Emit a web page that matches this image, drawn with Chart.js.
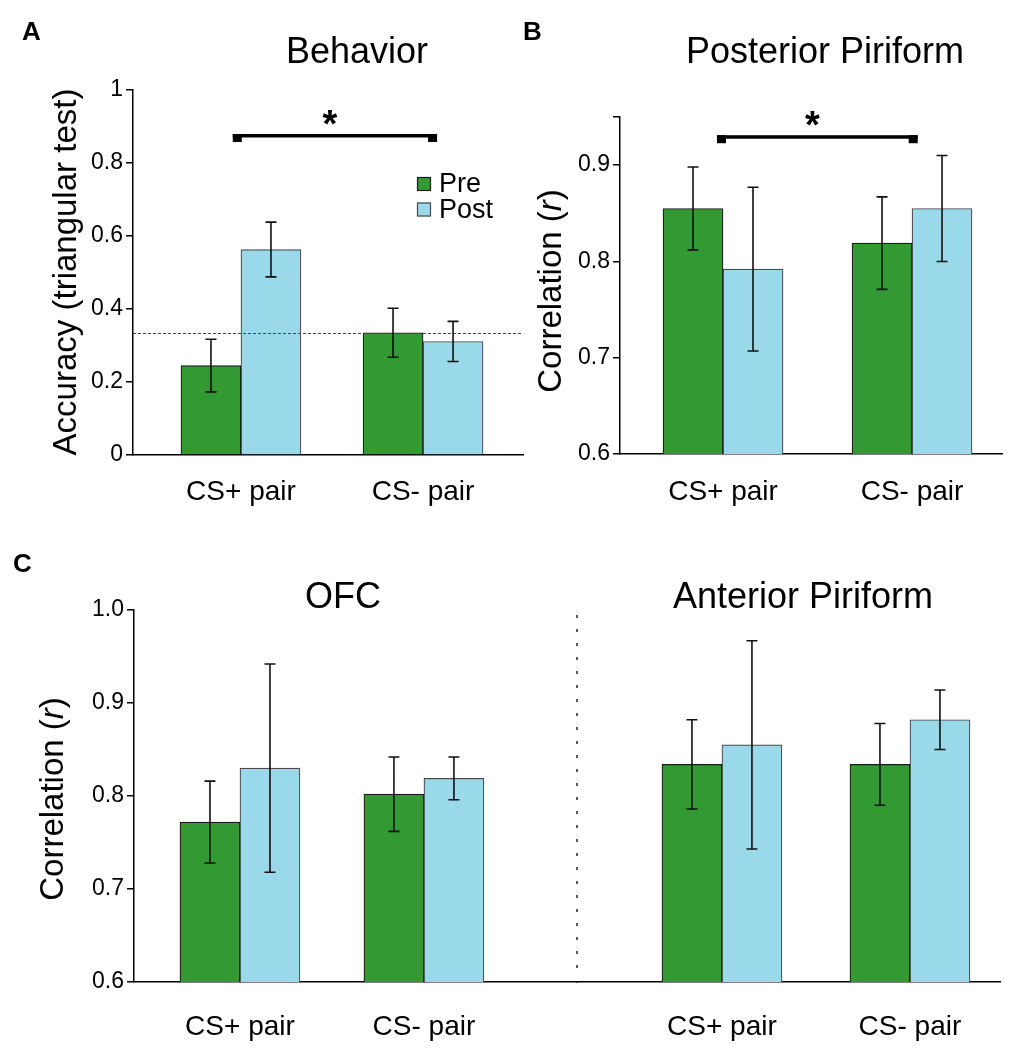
<!DOCTYPE html>
<html>
<head>
<meta charset="utf-8">
<script src="https://cdn.jsdelivr.net/npm/chart.js@4.4.1/dist/chart.umd.min.js"></script>
<style>
  html, body { margin: 0; padding: 0; background: #fff; }
  #wrap { position: relative; width: 1014px; height: 1050px; overflow: hidden; }
  canvas { position: absolute; }
</style>
</head>
<body>
<div id="wrap">
  <canvas id="chartA" style="left:0px;top:0px" width="530" height="510"></canvas>
  <canvas id="chartB" style="left:505px;top:0px" width="509" height="510"></canvas>
  <canvas id="chartOFC" style="left:0px;top:540px" width="580" height="510"></canvas>
  <canvas id="chartAP" style="left:567px;top:540px" width="447" height="510"></canvas>
</div>
<script>
const groups = ['CS+ pair', 'CS- pair'];
const seriesNames = ['Pre', 'Post'];

// Behavior (accuracy, triangular test)
const behaviorPre = [0.245, 0.335];
const behaviorPost = [0.563, 0.311];
const behaviorPreErr = [0.072, 0.067];
const behaviorPostErr = [0.075, 0.055];

// Posterior piriform (correlation r)
const postPirPre = [0.855, 0.819];
const postPirPost = [0.792, 0.855];
const postPirPreErr = [0.043, 0.048];
const postPirPostErr = [0.085, 0.055];

// OFC
const ofcPre = [0.772, 0.802];
const ofcPost = [0.830, 0.819];
const ofcPreErr = [0.044, 0.040];
const ofcPostErr = [0.112, 0.023];

// Anterior piriform
const antPirPre = [0.834, 0.834];
const antPirPost = [0.855, 0.882];
const antPirPreErr = [0.048, 0.044];
const antPirPostErr = [0.112, 0.032];

const accuracyTicks = [0, 0.2, 0.4, 0.6, 0.8, 1];
const accuracyTickLabels = ['0', '0.2', '0.4', '0.6', '0.8', '1'];
const postPirTicks = [0.6, 0.7, 0.8, 0.9, 0.95];
const postPirTickLabels = ['0.6', '0.7', '0.8', '0.9', ''];
const corrTicks = [0.6, 0.7, 0.8, 0.9, 1.0];
const corrTickLabels = ['0.6', '0.7', '0.8', '0.9', '1.0'];

const chanceLevel = 1 / 3;
const behaviorSig = 0.874;
const postPirSig = 0.929;

const FONT = "'Liberation Sans', Arial, Helvetica, sans-serif";
const preColor = '#339933';
const postColor = '#99d9ea';

const corrTitle = [{ t: 'Correlation (' }, { t: 'r', italic: true }, { t: ')' }];

// draws error bars, brackets, legend, titles etc.
const decor = {
  id: 'decor',
  afterDatasetsDraw(chart, args, opts) {
    const ctx = chart.ctx;
    const xs = chart.scales.x, ys = chart.scales.y;
    const area = chart.chartArea;
    ctx.save();
    if (opts.chance !== undefined) {
      const y = Math.round(ys.getPixelForValue(opts.chance)) + 0.5;
      ctx.setLineDash([3, 2]);
      ctx.lineWidth = 1;
      ctx.strokeStyle = '#444';
      ctx.beginPath();
      ctx.moveTo(area.left, y);
      ctx.lineTo(area.right, y);
      ctx.stroke();
      ctx.setLineDash([]);
    }
    chart.data.datasets.forEach((ds, d) => {
      chart.getDatasetMeta(d).data.forEach((bar, i) => {
        const v = ds.data[i].y, e = ds.errors[i];
        const x = bar.x;
        const y1 = ys.getPixelForValue(v + e);
        const y2 = ys.getPixelForValue(v - e);
        ctx.strokeStyle = '#111';
        ctx.lineWidth = 1.6;
        ctx.beginPath();
        ctx.moveTo(x, y1); ctx.lineTo(x, y2);
        ctx.moveTo(x - 5.5, y1); ctx.lineTo(x + 5.5, y1);
        ctx.moveTo(x - 5.5, y2); ctx.lineTo(x + 5.5, y2);
        ctx.stroke();
      });
    });
    if (opts.bracket) {
      const b = opts.bracket;
      const x1 = xs.getPixelForValue(b.from);
      const x2 = xs.getPixelForValue(b.to);
      const y = ys.getPixelForValue(b.level);
      ctx.fillStyle = '#000';
      ctx.fillRect(x1, y - 2, x2 - x1, 3.5);
      ctx.fillRect(x1, y - 2, 9, 8);
      ctx.fillRect(x2 - 9, y - 2, 9, 8);
      ctx.font = 'bold 38px ' + FONT;
      ctx.textAlign = 'center';
      ctx.textBaseline = 'alphabetic';
      ctx.fillText('*', (x1 + x2) / 2 - 5, y + 1);
    }
    if (opts.legend) {
      const L = opts.legend;
      chart.data.datasets.forEach((ds, d) => {
        const top = L.y + d * 25.5;
        ctx.fillStyle = ds.backgroundColor;
        ctx.fillRect(L.x, top, 14, 14);
        ctx.strokeStyle = ds.borderColor;
        ctx.lineWidth = 1.2;
        ctx.strokeRect(L.x + 0.5, top + 0.5, 13, 13);
        ctx.fillStyle = '#000';
        ctx.font = '27px ' + FONT;
        ctx.textAlign = 'left';
        ctx.textBaseline = 'alphabetic';
        ctx.fillText(ds.label, L.x + 22, top + 15);
      });
    }
    if (opts.divider) {
      const x = area.left;
      ctx.strokeStyle = '#222';
      ctx.lineWidth = 1.5;
      ctx.setLineDash([3, 11]);
      ctx.beginPath();
      ctx.moveTo(x, area.top + 5);
      ctx.lineTo(x, area.bottom - 4);
      ctx.stroke();
      ctx.setLineDash([]);
    }
    (opts.texts || []).forEach(t => {
      ctx.fillStyle = '#000';
      ctx.font = t.font + ' ' + FONT;
      ctx.textAlign = t.align || 'left';
      ctx.textBaseline = 'alphabetic';
      ctx.fillText(t.text, t.x, t.y);
    });
    if (opts.yTitle) {
      const yt = opts.yTitle;
      ctx.translate(yt.x, yt.y);
      ctx.rotate(-Math.PI / 2);
      ctx.textBaseline = 'middle';
      ctx.textAlign = 'left';
      ctx.fillStyle = '#000';
      let total = 0;
      yt.segments.forEach(s => {
        ctx.font = (s.italic ? 'italic ' : '') + yt.size + 'px ' + FONT;
        total += ctx.measureText(s.t).width;
      });
      let cx = -total / 2;
      yt.segments.forEach(s => {
        ctx.font = (s.italic ? 'italic ' : '') + yt.size + 'px ' + FONT;
        ctx.fillText(s.t, cx, 0);
        cx += ctx.measureText(s.t).width;
      });
    }
    ctx.restore();
  }
};

function makePanel(id, p) {
  const datasets = [
    {
      label: seriesNames[0],
      data: p.pre.map((v, i) => ({ x: i, y: v })),
      errors: p.preErr,
      backgroundColor: preColor,
      borderColor: '#1a1a1a',
      borderWidth: 1.2,
      barThickness: 60
    },
    {
      label: seriesNames[1],
      data: p.post.map((v, i) => ({ x: i, y: v })),
      errors: p.postErr,
      backgroundColor: postColor,
      borderColor: '#4a4a4a',
      borderWidth: 1.2,
      barThickness: 60
    }
  ];
  return new Chart(document.getElementById(id), {
    type: 'bar',
    data: { datasets: datasets },
    options: {
      responsive: false,
      animation: false,
      layout: { padding: p.padding },
      plugins: {
        legend: { display: false },
        tooltip: { enabled: false },
        decor: p.decor
      },
      scales: {
        x: {
          type: 'linear',
          min: p.xMin,
          max: p.xMax,
          offset: false,
          z: 1,
          afterBuildTicks: s => { s.ticks = groups.map((g, i) => ({ value: i })); },
          afterFit: s => { s.height = p.xHeight; },
          ticks: {
            callback: (v, i) => groups[i],
            autoSkip: false,
            maxRotation: 0,
            padding: p.xPad,
            color: '#000',
            font: { family: FONT, size: 28 }
          },
          grid: { display: false, drawTicks: false },
          border: { display: true, color: '#000', width: 1.5 }
        },
        y: {
          display: p.showY,
          min: p.yMin,
          max: p.yMax,
          beginAtZero: false,
          afterBuildTicks: s => { s.ticks = p.yTicks.map(v => ({ value: v })); },
          afterFit: s => { s.width = p.yWidth; },
          ticks: {
            callback: (v, i) => p.yTickLabels[i],
            autoSkip: false,
            padding: 3,
            color: '#000',
            font: { family: FONT, size: 23 }
          },
          grid: { display: true, drawOnChartArea: false, drawTicks: true, tickLength: 7, color: '#000', lineWidth: 1.5 },
          border: { display: true, color: '#000', width: 1.5 }
        }
      }
    },
    plugins: [decor]
  });
}

// Panel A
makePanel('chartA', {
  pre: behaviorPre, post: behaviorPost, preErr: behaviorPreErr, postErr: behaviorPostErr,
  yMin: 0, yMax: 1, yTicks: accuracyTicks, yTickLabels: accuracyTickLabels,
  xMin: -0.593, xMax: 1.549,
  padding: { left: 0, top: 90, right: 7, bottom: 0 },
  yWidth: 133, xHeight: 55, xPad: 20, showY: true,
  decor: {
    chance: chanceLevel,
    bracket: { from: -0.045, to: 1.077, level: behaviorSig },
    legend: { x: 417, y: 177 },
    texts: [
      { text: 'A', x: 22, y: 40, font: 'bold 26px' },
      { text: 'Behavior', x: 357, y: 63, font: '36px', align: 'center' }
    ],
    yTitle: { segments: [{ t: 'Accuracy (triangular test)' }], x: 67, y: 272, size: 33 }
  }
});

// Panel B
makePanel('chartB', {
  pre: postPirPre, post: postPirPost, preErr: postPirPreErr, postErr: postPirPostErr,
  yMin: 0.6, yMax: 0.95, yTicks: postPirTicks, yTickLabels: postPirTickLabels,
  xMin: -0.545, xMax: 1.476,
  padding: { left: 0, top: 117, right: 12, bottom: 0 },
  yWidth: 115, xHeight: 56, xPad: 21, showY: true,
  decor: {
    bracket: { from: -0.032, to: 1.03, level: postPirSig },
    texts: [
      { text: 'B', x: 18, y: 40, font: 'bold 26px' },
      { text: 'Posterior Piriform', x: 320, y: 63, font: '36px', align: 'center' }
    ],
    yTitle: { segments: corrTitle, x: 47, y: 291, size: 33 }
  }
});

// Panel C, left: OFC
makePanel('chartOFC', {
  pre: ofcPre, post: ofcPost, preErr: ofcPreErr, postErr: ofcPostErr,
  yMin: 0.6, yMax: 1.0, yTicks: corrTicks, yTickLabels: corrTickLabels,
  xMin: -0.576, xMax: 1.832,
  padding: { left: 0, top: 70, right: 3, bottom: 0 },
  yWidth: 134, xHeight: 68, xPad: 28, showY: true,
  decor: {
    texts: [
      { text: 'C', x: 13, y: 32, font: 'bold 26px' },
      { text: 'OFC', x: 343, y: 68, font: '36px', align: 'center' }
    ],
    yTitle: { segments: corrTitle, x: 54, y: 259, size: 33 }
  }
});

// Panel C, right: Anterior Piriform
makePanel('chartAP', {
  pre: antPirPre, post: antPirPost, preErr: antPirPreErr, postErr: antPirPostErr,
  yMin: 0.6, yMax: 1.0, yTicks: corrTicks, yTickLabels: corrTickLabels,
  xMin: -0.771, xMax: 1.479,
  padding: { left: 10, top: 70, right: 14, bottom: 0 },
  yWidth: 0, xHeight: 68, xPad: 28, showY: false,
  decor: {
    divider: true,
    texts: [
      { text: 'Anterior Piriform', x: 236, y: 68, font: '36px', align: 'center' }
    ]
  }
});
</script>
</body>
</html>
